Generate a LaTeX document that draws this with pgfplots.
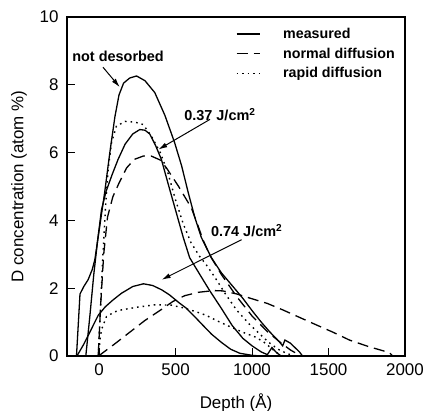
\documentclass[border=0pt]{standalone}
\usepackage{fontspec}
\setmainfont{Liberation Sans}
\usepackage{pgfplots}
\pgfplotsset{compat=1.18}
\usetikzlibrary{arrows.meta}

\pgfplotstableread{
x y
-148 0
-125 1.83
-100 2.05
-72 2.25
-45 2.55
-28 2.84
0 3.7
37 4.85
70 6.0
103 7.05
130 7.7
160 8.05
200 8.2
245 8.26
300 8.12
364 7.77
430 7.1
494 6.29
540 5.6
581 4.85
625 4.1
668 3.5
734 2.9
800 2.45
875 2.05
940 1.7
1005 1.31
1060 1.0
1114 0.72
1178 0.42
1200 0.3
1215 0.47
1250 0.38
1280 0.25
1310 0.12
1330 0
}\notdes

\pgfplotstableread{
x y
-87 0
-60 1.2
-35 2.4
-10 3.4
15 4.3
45 4.85
85 5.35
124 5.8
170 6.25
220 6.55
266 6.68
300 6.66
331 6.55
370 6.2
407 5.8
450 5.1
500 4.3
550 3.5
592 2.9
659 2.4
720 1.95
800 1.4
870 0.9
940 0.52
1000 0.3
1060 0.12
1100 0.04
1130 0.25
1160 0.1
1190 0
}\measA

\pgfplotstableread{
x y
-6 0
10 1.5
30 3.0
55 4.1
90 4.7
130 5.1
180 5.55
230 5.8
290 5.9
340 5.9
400 5.78
440 5.55
520 5.0
603 4.37
650 3.8
679 3.43
723 2.98
800 2.4
900 1.75
1000 1.18
1100 0.72
1180 0.42
1250 0.18
1320 0
}\normA

\pgfplotstableread{
x y
-5 0
10 1.5
25 3.0
42 4.4
59 5.5
81 6.29
113 6.78
170 6.92
233 6.9
287 6.83
340 6.5
400 6.0
450 5.4
500 4.6
550 3.9
600 3.35
657 2.94
701 2.69
760 2.3
830 1.8
900 1.35
980 0.95
1050 0.65
1110 0.4
1170 0.2
1230 0.07
1280 0
}\rapA

\pgfplotstableread{
x y
-145 0
-100 0.35
-50 0.8
-6 1.2
40 1.45
90 1.65
146 1.85
220 2.05
290 2.13
350 2.08
410 1.95
461 1.8
520 1.58
570 1.41
625 1.16
680 0.9
736 0.64
800 0.4
860 0.2
920 0.08
1000 0.02
1060 0
}\measB

\pgfplotstableread{
x y
-4 0
100 0.35
200 0.7
300 1.05
400 1.35
483 1.61
560 1.78
650 1.88
750 1.93
809 1.92
900 1.83
984 1.71
1100 1.55
1201 1.36
1300 1.16
1419 0.92
1530 0.7
1637 0.47
1760 0.28
1898 0.1
1920 0
}\normB

\pgfplotstableread{
x y
-2 0
5 0.45
15 0.77
48 1.16
100 1.3
146 1.36
250 1.44
364 1.51
472 1.5
550 1.42
592 1.36
625 1.32
700 1.2
780 1.02
853 0.87
940 0.7
1027 0.55
1080 0.4
1120 0.25
1160 0.1
1200 0
}\rapB

\begin{document}
\begin{tikzpicture}
\path[use as bounding box] (-67bp,-55bp) rectangle (358bp,356bp);
\begin{axis}[
  at={(0,0)}, anchor=south west,
  scale only axis, width=338bp, height=339bp,
  xmin=-210, xmax=2000, ymin=0, ymax=10,
  xtick={0,500,1000,1500,2000}, ytick={0,2,4,6,8,10},
  scaled ticks=false,
  tick pos=left, tick align=inside, major tick length=8bp,
  tick style={line width=1pt, black},
  axis line style={line width=1.2pt},
  /pgf/number format/assume math mode=true,
  /pgf/number format/1000 sep={},
  tick label style={font=\fontsize{17}{19}\selectfont},
  xticklabel style={yshift=-4bp},
  yticklabel style={xshift=-5bp},
  xlabel={Depth (Å)},
  ylabel={D concentration (atom \%)},
  label style={font=\fontsize{17}{19}\selectfont},
  xlabel style={at={(axis description cs:0.5,-0.139)}, anchor=center},
  ylabel style={at={(axis description cs:-0.142,0.5)}, anchor=center},
  legend cell align=left,
  legend style={draw=none, fill=none, at={(axis description cs:0.49,0.98)}, anchor=north west,
    font=\bfseries\fontsize{14.3}{16}\selectfont, row sep=4bp,
    /tikz/every odd column/.append style={column sep=21bp}},
  legend image code/.code={\draw[#1] (0bp,0bp) -- (23bp,0bp);},
  clip=false,
]
\addplot[black, line width=1.3pt] table {\notdes};
\addlegendentry{measured}
\addplot[black, line width=1.3pt, dash pattern=on 11bp off 6bp] table {\normA};
\addlegendentry{normal diffusion}
\addplot[black, line width=1.4pt, dash pattern=on 1.6bp off 4bp] table {\rapA};
\addlegendentry{rapid diffusion}
\addplot[black, line width=1.3pt, forget plot] table {\measA};
\addplot[black, line width=1.3pt, forget plot] table {\measB};
\addplot[black, line width=1.3pt, dash pattern=on 11bp off 6bp, forget plot] table {\normB};
\addplot[black, line width=1.4pt, dash pattern=on 1.6bp off 4bp, forget plot] table {\rapB};

\node[font=\bfseries\fontsize{14.5}{16}\selectfont] at (axis cs:124,8.85) {not desorbed};
\draw[line width=1pt, -{Latex[length=9bp,width=5bp]}] (axis cs:25,8.52) -- (axis cs:135,7.93);
\node[font=\bfseries\fontsize{14.5}{16}\selectfont] at (axis cs:790,7.13) {0.37 J/cm\textsuperscript{2}};
\draw[line width=1pt, -{Latex[length=9bp,width=5bp]}] (axis cs:725,6.98) -- (axis cs:387,6.09);
\node[font=\bfseries\fontsize{14.5}{16}\selectfont] at (axis cs:965,3.7) {0.74 J/cm\textsuperscript{2}};
\draw[line width=1pt, -{Latex[length=9bp,width=5bp]}] (axis cs:932,3.43) -- (axis cs:409,2.25);
\end{axis}
\end{tikzpicture}
\end{document}
